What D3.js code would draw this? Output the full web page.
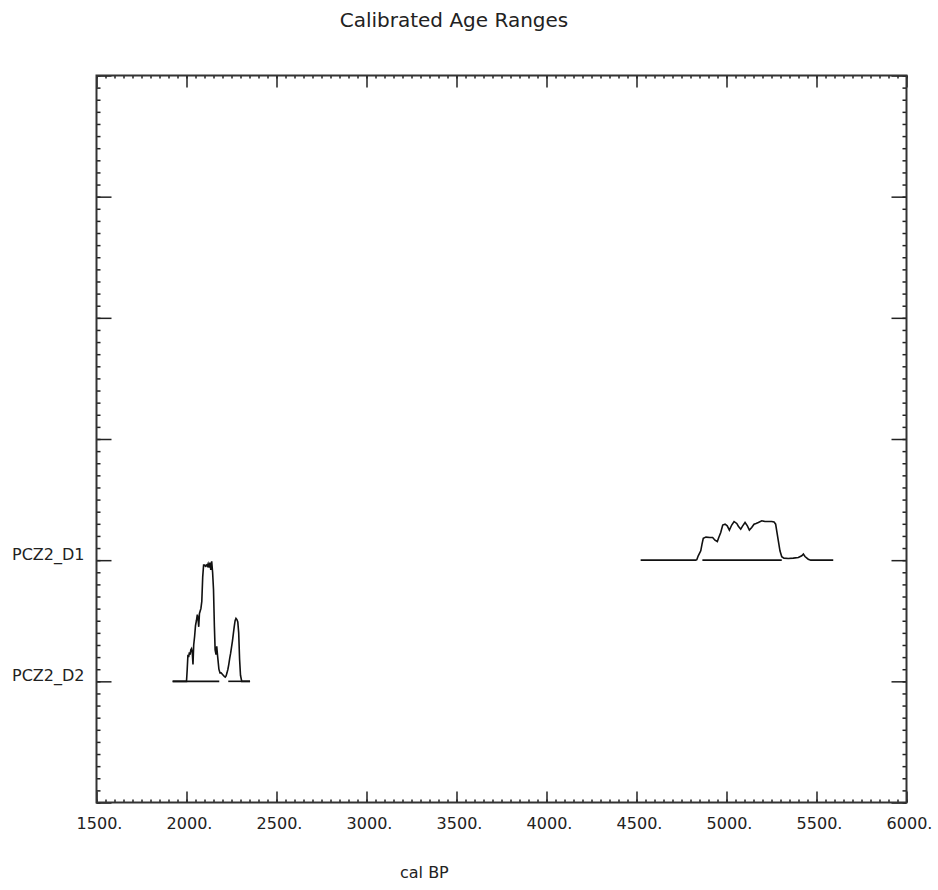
<!DOCTYPE html>
<html><head><meta charset="utf-8">
<script src="https://cdn.jsdelivr.net/npm/d3@7"></script>
<style>
body{margin:0;background:#fff}
text{font-family:"DejaVu Sans",sans-serif;fill:#222}
</style>
</head><body>
<svg id="chart" width="938" height="890"></svg>
<script>
const chartTitle = "Calibrated Age Ranges";
const xAxisTitle = "cal BP";
const sampleNames = ["PCZ2_D2", "PCZ2_D1"]; // lanes 1 and 2
const xMajorTicks = [1500, 2000, 2500, 3000, 3500, 4000, 4500, 5000, 5500, 6000];

// PCZ2_D1 probability distribution (years cal BP, relative probability)
const d1Years = [4523,4829,4835,4843,4857,4864,4871,4886,4908,4923,4936,4949,4957,4968,4979,4992,5004,5016,5029,5042,5057,5066,5079,5090,5103,5116,5127,5140,5153,5164,5177,5196,5214,5232,5251,5264,5273,5279,5288,5297,5307,5319,5343,5371,5399,5418,5427,5436,5454,5468,5593];
const d1Prob  = [0,0,0.004,0.036,0.077,0.132,0.18,0.19,0.187,0.187,0.165,0.154,0.187,0.228,0.29,0.297,0.283,0.248,0.29,0.319,0.303,0.28,0.256,0.283,0.311,0.283,0.248,0.27,0.297,0.303,0.311,0.325,0.319,0.319,0.319,0.316,0.297,0.242,0.16,0.077,0.028,0.0165,0.014,0.0165,0.022,0.036,0.05,0.03,0.008,0,0];
const d1Ranges = [[4866, 5307]];

// PCZ2_D2 probability distribution
const d2Years = [1923,2000,2004,2008,2012,2016,2020,2024,2028,2032,2036,2040,2045,2050,2055,2060,2064,2068,2072,2076,2080,2085,2090,2095,2100,2105,2110,2115,2120,2125,2130,2135,2140,2145,2150,2155,2159,2164,2168,2172,2176,2180,2186,2192,2198,2204,2210,2215,2220,2225,2230,2235,2240,2245,2250,2255,2260,2265,2270,2275,2280,2285,2290,2295,2300,2307,2353];
const d2Prob  = [0,0,0.10,0.22,0.20,0.24,0.22,0.26,0.27,0.24,0.14,0.30,0.37,0.46,0.50,0.55,0.52,0.45,0.56,0.58,0.60,0.66,0.86,0.96,0.96,0.95,0.96,0.95,0.97,0.94,0.98,0.92,0.99,0.90,0.76,0.45,0.26,0.22,0.29,0.22,0.16,0.10,0.07,0.07,0.06,0.05,0.04,0.035,0.045,0.07,0.10,0.14,0.19,0.23,0.28,0.33,0.39,0.45,0.50,0.52,0.51,0.49,0.40,0.18,0.05,0,0];
const d2Ranges = [[1923, 2182], [2232, 2353]];

const svg = d3.select("#chart");
const plotL = 96.5, plotR = 906.5, plotT = 75.5, plotB = 802.5;
const x = d3.scaleLinear().domain([1500, 6000]).range([plotL, plotR]);
const y = d3.scaleLinear().domain([0, 6]).range([plotB, plotT]);

const xMinor = d3.range(1500, 6001, 50);
const yMajor = d3.range(0, 7, 1);
const yMinor = d3.range(0, 61, 1).map(v => v / 10);

function styleAxis(g) {
  g.select(".domain").remove();
  g.selectAll(".tick line").attr("stroke", "#222").attr("stroke-width", 1.5);
}

// bottom axis
svg.append("g").attr("transform", `translate(0,${plotB})`)
  .call(d3.axisBottom(x).tickValues(xMinor).tickSize(-3).tickFormat(""))
  .call(styleAxis);
const bx = svg.append("g").attr("transform", `translate(0,${plotB})`)
  .call(d3.axisBottom(x).tickValues(xMajorTicks).tickSize(-11).tickPadding(15).tickFormat(d => d + "."))
  .call(styleAxis);
bx.selectAll("text").attr("font-size", 16).attr("font-family", "DejaVu Sans").attr("fill", "#222").attr("dx", 2.5);

// top axis
svg.append("g").attr("transform", `translate(0,${plotT})`)
  .call(d3.axisTop(x).tickValues(xMinor).tickSize(-3).tickFormat(""))
  .call(styleAxis);
svg.append("g").attr("transform", `translate(0,${plotT})`)
  .call(d3.axisTop(x).tickValues(xMajorTicks).tickSize(-12).tickFormat(""))
  .call(styleAxis);

// left axis
svg.append("g").attr("transform", `translate(${plotL},0)`)
  .call(d3.axisLeft(y).tickValues(yMinor).tickSize(-4).tickFormat(""))
  .call(styleAxis);
const ly = svg.append("g").attr("transform", `translate(${plotL},0)`)
  .call(d3.axisLeft(y).tickValues(yMajor).tickSize(-15).tickPadding(12)
    .tickFormat(d => (d >= 1 && d <= sampleNames.length) ? sampleNames[d - 1] : ""))
  .call(styleAxis);
ly.selectAll("text").attr("font-size", 16).attr("font-family", "DejaVu Sans").attr("fill", "#222").attr("dy", "-0.05em");

// right axis
svg.append("g").attr("transform", `translate(${plotR},0)`)
  .call(d3.axisRight(y).tickValues(yMinor).tickSize(-4).tickFormat(""))
  .call(styleAxis);
svg.append("g").attr("transform", `translate(${plotR},0)`)
  .call(d3.axisRight(y).tickValues(yMajor).tickSize(-15).tickFormat(""))
  .call(styleAxis);

// frame
svg.append("rect").attr("x", plotL).attr("y", plotT)
  .attr("width", plotR - plotL).attr("height", plotB - plotT)
  .attr("fill", "none").attr("stroke", "#333").attr("stroke-width", 2);

// distributions
const series = [
  {lane: 2, years: d1Years, prob: d1Prob, ranges: d1Ranges},
  {lane: 1, years: d2Years, prob: d2Prob, ranges: d2Ranges}
];
const line = d3.line().x(d => x(d[0])).y(d => y(d[1]));
series.forEach(s => {
  const pts = s.years.map((yr, i) => [yr, s.lane + s.prob[i]]);
  svg.append("path").attr("d", line(pts))
    .attr("fill", "none").attr("stroke", "#111").attr("stroke-width", 1.6)
    .attr("stroke-linejoin", "miter");
  s.ranges.forEach(r => {
    svg.append("line")
      .attr("x1", x(r[0])).attr("x2", x(r[1]))
      .attr("y1", y(s.lane)).attr("y2", y(s.lane))
      .attr("stroke", "#111").attr("stroke-width", 1.6);
  });
});

// titles
svg.append("text").attr("x", 454).attr("y", 27).attr("text-anchor", "middle")
  .attr("font-size", 20).text(chartTitle);
svg.append("text").attr("x", 400).attr("y", 878).attr("text-anchor", "start")
  .attr("font-size", 16).text(xAxisTitle);
</script>
</body></html>
